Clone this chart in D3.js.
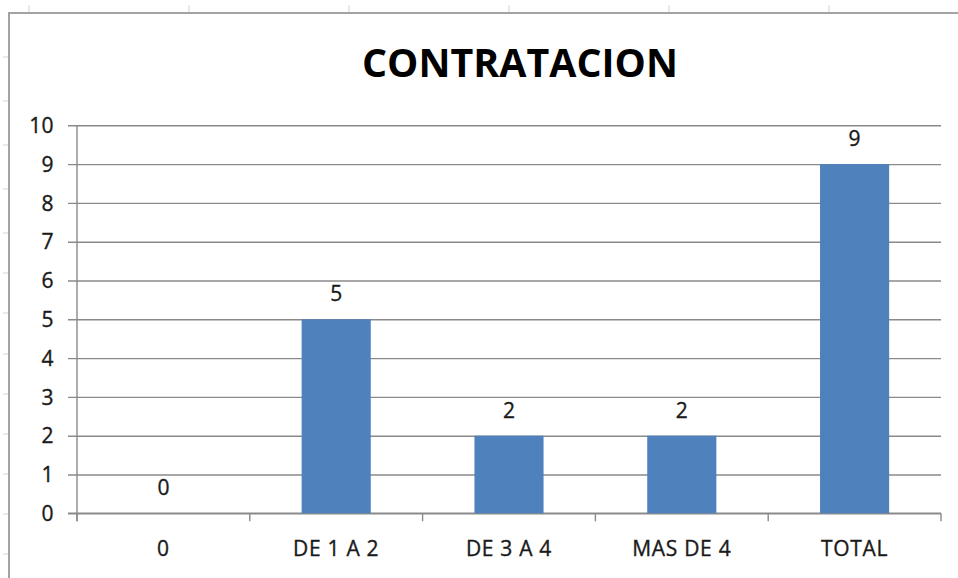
<!DOCTYPE html>
<html>
<head>
<meta charset="utf-8">
<script src="https://cdn.jsdelivr.net/npm/d3@7"></script>
<style>
  html, body { margin: 0; padding: 0; background: #fff; }
  svg { display: block; }
  text { font-family: "Open Sans", "Noto Sans", sans-serif; }
  .lbl { stroke: #1a1a1a; stroke-width: 0.35; }
</style>
</head>
<body>
<svg id="chart" width="958" height="578"></svg>
<script>
// ---- data ----
const categories = ["0", "DE 1 A 2", "DE 3 A 4", "MAS DE 4", "TOTAL"];
const values = [0, 5, 2, 2, 9];
const yTicks = [0, 1, 2, 3, 4, 5, 6, 7, 8, 9, 10];
const title = "CONTRATACION";

// spreadsheet grid marks peeking out around the chart object
const sheetCols = [29, 189, 349, 509, 669, 829];
const sheetRows = [57, 101, 145, 189, 233, 273, 313, 354, 394, 434, 474, 514, 554];

const svg = d3.select("#chart");
const plot = { left: 77, right: 941, top: 125.3, bottom: 513.3 };
const gridColor = "#8a8a8a";

/* --- sheet background marks --- */
svg.append("g").selectAll("line").data(sheetCols).join("line")
  .attr("x1", d => d).attr("x2", d => d).attr("y1", 5).attr("y2", 13)
  .attr("stroke", "#d4d4d4").attr("stroke-width", 1);
svg.append("g").selectAll("line").data(sheetRows).join("line")
  .attr("x1", 3).attr("x2", 9).attr("y1", d => d).attr("y2", d => d)
  .attr("stroke", "#d4d4d4").attr("stroke-width", 1);

/* --- chart object border --- */
svg.append("path")
  .attr("d", "M9,590 V13 H970")
  .attr("fill", "none").attr("stroke", "#a3a3a3").attr("stroke-width", 2);

/* --- scales --- */
const x = d3.scaleBand().domain(categories)
  .range([plot.left, plot.right]).paddingInner(0.6).paddingOuter(0.3);
const y = d3.scaleLinear().domain([0, 10]).range([plot.bottom, plot.top]);

/* --- gridlines + y axis --- */
const yAxis = d3.axisLeft(y).tickValues(yTicks).tickSize(plot.right - plot.left + 9)
  .tickPadding(14).tickFormat(d3.format("d"));
const yg = svg.append("g").attr("transform", `translate(${plot.right},0)`).call(yAxis);
yg.select(".domain").remove();
yg.selectAll(".tick line").attr("stroke", gridColor).attr("stroke-width", 1.4);
yg.selectAll(".tick text")
  .attr("class", "lbl")
  .attr("font-size", 21).attr("fill", "#1a1a1a").attr("letter-spacing", 0.4)
  .attr("dy", "0.34em");

svg.append("line")
  .attr("x1", plot.left).attr("x2", plot.left)
  .attr("y1", plot.top).attr("y2", plot.bottom + 8)
  .attr("stroke", gridColor).attr("stroke-width", 1.4);

/* --- x axis --- */
const bounds = d3.range(categories.length + 1).map(i => plot.left + i * x.step());
svg.append("line")
  .attr("x1", plot.left - 9).attr("x2", plot.right)
  .attr("y1", plot.bottom).attr("y2", plot.bottom)
  .attr("stroke", gridColor).attr("stroke-width", 1.4);
svg.append("g").selectAll("line").data(bounds).join("line")
  .attr("x1", d => d).attr("x2", d => d)
  .attr("y1", plot.bottom).attr("y2", plot.bottom + 8)
  .attr("stroke", gridColor).attr("stroke-width", 1.4);

svg.append("g").selectAll("text").data(categories).join("text")
  .attr("class", "lbl")
  .attr("x", d => x(d) + x.bandwidth() / 2)
  .attr("y", 556)
  .attr("text-anchor", "middle")
  .attr("font-size", 21).attr("fill", "#1a1a1a").attr("letter-spacing", 0.7)
  .text(d => d);

/* --- bars --- */
const data = categories.map((c, i) => ({ c, v: values[i] }));
svg.append("g").selectAll("rect").data(data).join("rect")
  .attr("x", d => x(d.c))
  .attr("width", x.bandwidth())
  .attr("y", d => y(d.v))
  .attr("height", d => y(0) - y(d.v))
  .attr("fill", "#4f81bd");

svg.append("g").selectAll("text").data(data).join("text")
  .attr("class", "lbl")
  .attr("x", d => x(d.c) + x.bandwidth() / 2)
  .attr("y", d => y(d.v) - 18)
  .attr("text-anchor", "middle")
  .attr("font-size", 21).attr("fill", "#1a1a1a")
  .text(d => d.v);

/* --- title --- */
svg.append("text")
  .attr("x", 520).attr("y", 77)
  .attr("text-anchor", "middle")
  .attr("font-size", 40).attr("font-weight", "bold").attr("fill", "#000")
  .attr("textLength", 316).attr("lengthAdjust", "spacingAndGlyphs")
  .text(title);
</script>
</body>
</html>
